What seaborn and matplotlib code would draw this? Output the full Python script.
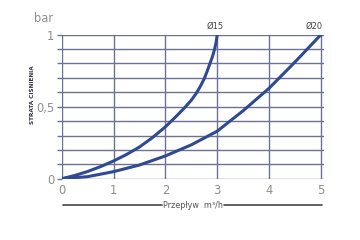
import matplotlib
matplotlib.use("Agg")
import matplotlib.pyplot as plt
import seaborn as sns
import pandas as pd
import numpy as np
from matplotlib.lines import Line2D

# Data
x15 = [0, 0.25, 0.5, 0.75, 1.0, 1.25, 1.5, 1.75, 2.0, 2.2, 2.35, 2.5, 2.6, 2.68, 2.75, 2.81, 2.86, 2.91, 2.95, 2.98, 3.0]
y15 = [0, 0.022, 0.05, 0.084, 0.123, 0.168, 0.22, 0.285, 0.36, 0.43, 0.485, 0.545, 0.595, 0.645, 0.695, 0.75, 0.8, 0.85, 0.9, 0.95, 1.0]
x20 = [0, 0.5, 1.0, 1.5, 2.0, 2.5, 3.0, 3.5, 4.0, 4.5, 5.0]
y20 = [0, 0.014, 0.049, 0.095, 0.158, 0.235, 0.33, 0.472, 0.628, 0.81, 1.0]
series_names = ["Ø15", "Ø20"]
x_ticks = [0, 1, 2, 3, 4, 5]
y_ticks_major = [0, 0.5, 1]
y_tick_labels = ["0", "0,5", "1"]

df = pd.concat([
    pd.DataFrame({"q": x15, "p": y15, "s": series_names[0]}),
    pd.DataFrame({"q": x20, "p": y20, "s": series_names[1]}),
])

sns.set_theme(style="white")
plt.rcParams['font.family'] = ['DejaVu Sans']

GRID = "#6e7194"
CURVE = "#2f4a93"
TXT = "#8f8f8f"

fig = plt.figure(figsize=(3.6, 2.4), dpi=100)
ax = fig.add_axes([61.7/360, 1 - 178.7/240, (324 - 61.7)/360, 144/240])

sns.lineplot(data=df, x="q", y="p", hue="s", palette=[CURVE, CURVE],
             sort=False, estimator=None, linewidth=2.2, legend=False, ax=ax,
             zorder=5)

ax.set_xlim(0, 5.06)
ax.set_ylim(0, 1)
for s in ax.spines.values():
    s.set_visible(False)

# grid
for xv in x_ticks:
    ax.axvline(xv, color=GRID, lw=1.0, zorder=1)
for yv in np.arange(11) / 10:
    ax.axhline(yv, color=GRID, lw=1.0, zorder=1)

yt = np.round(np.arange(11) / 10, 1)
ax.set_yticks(yt)
ax.set_yticklabels([y_tick_labels[y_ticks_major.index(v)] if v in (0, 0.5, 1) else "" for v in yt])
ax.tick_params(axis="y", which="both", left=True, length=3.3, width=1.0, color=GRID,
               labelsize=8.3, labelcolor=TXT, pad=2)
ax.set_xticks(x_ticks)
ax.set_xticklabels([str(v) for v in x_ticks])
ax.tick_params(axis="x", bottom=False, length=0, labelsize=8.3, labelcolor=TXT, pad=4)
ax.set_xlabel("")
ax.set_ylabel("")

# "bar" unit
fig.text(44/360, 1 - 18/240, "bar", fontsize=8.3, color=TXT, ha="center", va="center")

# y label
fig.text(33/360, 1 - 95/240, "STRATA CIŚNIENIA", rotation=90, fontsize=4.6,
         fontweight="bold", color="#333344", ha="center", va="center",
         fontstretch="condensed")

# series labels
ax.text(x15[-1] - 0.05, 1.025, series_names[0], fontsize=6, color="#444444",
        ha="center", va="bottom")
ax.text(x20[-1] - 0.13, 1.025, series_names[1], fontsize=6, color="#444444",
        ha="center", va="bottom")

# x label with lines
fig.text(193/360, 1 - 205/240, "Przepływ  m³/h", fontsize=5.8, color="#555555",
         ha="center", va="center")
fig.add_artist(Line2D([63/360, 162/360], [1 - 205/240] * 2, color="#444444", lw=1.2))
fig.add_artist(Line2D([224/360, 322/360], [1 - 205/240] * 2, color="#444444", lw=1.2))

fig.savefig("out.png", dpi=100)
